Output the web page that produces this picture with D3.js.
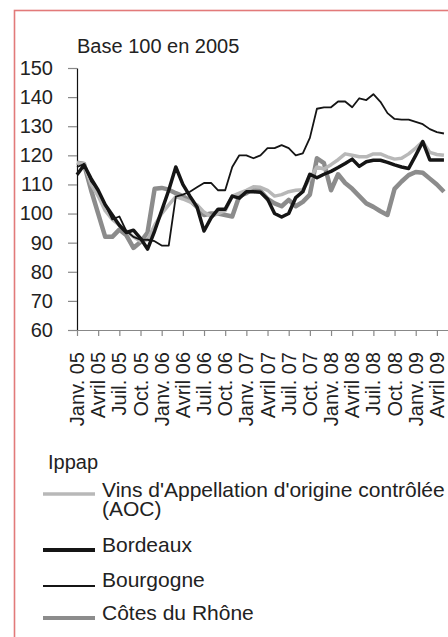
<!DOCTYPE html>
<html>
<head>
<meta charset="utf-8">
<script src="https://cdn.jsdelivr.net/npm/d3@7"></script>
<style>
  body { margin: 0; background: #fff; }
  svg { display: block; font-family: "Liberation Sans", Arial, sans-serif; }
</style>
</head>
<body>
<script>
'use strict';

// monthly index, janv. 2005 = 0 ... mai 2009 = 52
const xLabels = ["Janv. 05", "Avril 05", "Juil. 05", "Oct. 05",
  "Janv. 06", "Avril 06", "Juil. 06", "Oct. 06",
  "Janv. 07", "Avril 07", "Juil. 07", "Oct. 07",
  "Janv. 08", "Avril 08", "Juil. 08", "Oct. 08",
  "Janv. 09", "Avril 09"];
const yTicks = [60, 70, 80, 90, 100, 110, 120, 130, 140, 150];

const seriesNames = ["Vins d'Appellation d'origine contrôlée|(AOC)", "Bordeaux", "Bourgogne", "Côtes du Rhône"];

const aoc = [117.5, 117, 110, 106, 101, 98, 96, 94, 92, 90.5, 91, 96, 100, 103, 105.8, 105, 104, 103,
  100.5, 99, 100, 101, 106, 107, 108, 109.2, 109, 108, 106, 106.5, 107.5, 108, 108.2, 112, 116, 115.3,
  116.8, 118.5, 120.5, 120, 119.5, 119.5, 120.5, 120.5, 119.5, 118.7, 119, 120.5, 122.5, 124.7, 121, 120.3, 120];
const bordeaux = [113.3, 116.7, 112, 108, 103, 99.5, 96, 93.5, 94.3, 91.5, 87.8, 94, 101, 108, 116, 110, 106, 102.3,
  94, 98.5, 101.5, 101.5, 106, 105.3, 107.5, 107.5, 107.3, 105, 100, 98.8, 100, 105.5, 107.5, 113.5, 112.3, 113.5,
  114.5, 115.8, 117.2, 118.7, 116.2, 117.8, 118.3, 118.3, 117.6, 116.7, 116, 115.5, 120, 124.7, 118.4, 118.4, 118.4];
const bourgogne = [116, 117, 111, 108, 103, 98, 99, 94, 92, 91, 91, 90.5, 89, 89, 105.8, 106.5, 107.5, 109,
  110.5, 110.5, 108, 108, 116, 120, 120, 119, 120, 122.5, 122.5, 123.5, 122.5, 120, 120.7, 126, 136, 136.5,
  136.5, 138.5, 138.5, 136.5, 139.6, 139, 141, 138.4, 134.5, 132.5, 132.3, 132.3, 131.5, 130.7, 129, 128, 127.5];
const rhone = [117.5, 117, 108, 100, 92, 92, 94.5, 92.5, 88.2, 90.2, 93.5, 108.5, 108.8, 108.2, 107, 106, 104.5, 102.3,
  99.5, 100, 100, 99.5, 99, 106, 107, 108.8, 107.8, 105, 103.5, 102.5, 104.7, 102.5, 104, 106.5, 119, 117.3,
  108, 113.5, 110.5, 108.5, 106, 103.5, 102.3, 100.8, 99.5, 108.5, 111, 113.2, 114.3, 114, 112, 110, 107.5];

let svgContainer = "";

window.onload = function() {
  svgContainer = d3.select('body')
    .append('svg')
    .attr('width', 448)
    .attr('height', 637);

  // red frame around the figure
  svgContainer.append('rect')
    .attr('x', 14.5).attr('y', 10.5)
    .attr('width', 600).attr('height', 700)
    .attr('fill', 'none')
    .attr('stroke', '#e27a7a')
    .attr('stroke-width', 1.6);

  svgContainer.append('text')
    .attr('x', 77).attr('y', 52.5)
    .attr('font-size', 20)
    .attr('fill', '#222')
    .text('Base 100 en 2005');

  let map = drawAxes();
  drawLines(map);
  drawLegend();
}

function drawAxes() {
  // one step per month, axis runs off the right edge like the original
  let xScale = d3.scaleLinear().domain([0, 53]).range([77, 451]);
  let yScale = d3.scaleLinear().domain([60, 150]).range([330, 68]);

  let yAxis = d3.axisLeft(yScale)
    .tickValues(yTicks)
    .tickSize(9)
    .tickSizeOuter(0)
    .tickPadding(15);
  let gy = svgContainer.append('g')
    .attr('transform', 'translate(77, 0)')
    .call(yAxis);
  gy.select('.domain').attr('stroke', '#111').attr('stroke-width', 1.2);
  gy.selectAll('.tick line').attr('stroke', '#888').attr('stroke-width', 1.2);
  gy.selectAll('.tick text')
    .attr('font-size', 20)
    .attr('font-family', '"Liberation Sans", Arial, sans-serif')
    .attr('fill', '#222');

  let tickIdx = xLabels.map((d, i) => i * 3);
  let xAxis = d3.axisBottom(xScale)
    .tickValues(tickIdx)
    .tickSize(6)
    .tickSizeOuter(0)
    .tickFormat((d, i) => xLabels[i]);
  let gx = svgContainer.append('g')
    .attr('transform', 'translate(0, 330)')
    .call(xAxis);
  gx.select('.domain').attr('stroke', '#888').attr('stroke-width', 1.2);
  gx.selectAll('.tick line').attr('stroke', '#888').attr('stroke-width', 1.2);
  gx.selectAll('.tick text')
    .attr('font-size', 20)
    .attr('font-family', '"Liberation Sans", Arial, sans-serif')
    .attr('fill', '#222')
    .attr('text-anchor', 'end')
    .attr('dy', null)
    .attr('y', null)
    .attr('transform', 'translate(6.5, 22) rotate(-90)');

  return { x: xScale, y: yScale };
}

function drawLines(map) {
  let line = d3.line()
    .x((d, i) => map.x(i))
    .y(d => map.y(d))
    .curve(d3.curveLinear);

  // draw order: rhone, aoc, bordeaux, bourgogne
  let specs = [
    { values: rhone, color: '#8c8c8c', width: 4.5 },
    { values: aoc, color: '#b8b8b8', width: 3.5 },
    { values: bordeaux, color: '#151515', width: 3.5 },
    { values: bourgogne, color: '#151515', width: 1.8 }
  ];
  svgContainer.selectAll('.serie')
    .data(specs)
    .enter()
    .append('path')
      .attr('class', 'serie')
      .attr('d', s => line(s.values))
      .attr('fill', 'none')
      .attr('stroke', s => s.color)
      .attr('stroke-width', s => s.width)
      .attr('stroke-linejoin', 'round');
}

function drawLegend() {
  svgContainer.append('text')
    .attr('x', 48).attr('y', 468.5)
    .attr('font-size', 20)
    .attr('fill', '#222')
    .text('Ippap');

  let items = [
    { name: seriesNames[0], color: '#b8b8b8', width: 3.7, ly: 494, ty: 496.5 },
    { name: seriesNames[1], color: '#151515', width: 4, ly: 550, ty: 551.5 },
    { name: seriesNames[2], color: '#151515', width: 2.2, ly: 586, ty: 587 },
    { name: seriesNames[3], color: '#8c8c8c', width: 4.2, ly: 618, ty: 620 }
  ];

  let g = svgContainer.append('g');
  g.selectAll('line')
    .data(items)
    .enter()
    .append('line')
      .attr('x1', 43).attr('x2', 95)
      .attr('y1', d => d.ly).attr('y2', d => d.ly)
      .attr('stroke', d => d.color)
      .attr('stroke-width', d => d.width);

  let t = g.selectAll('text')
    .data(items)
    .enter()
    .append('text')
      .attr('x', 102)
      .attr('y', d => d.ty)
      .attr('font-size', 21)
      .attr('fill', '#222');
  t.selectAll('tspan')
    .data(d => d.name.split('|'))
    .enter()
    .append('tspan')
      .attr('x', 102)
      .attr('dy', (d, i) => i === 0 ? 0 : 19.5)
      .text(d => d);
}
</script>
</body>
</html>
